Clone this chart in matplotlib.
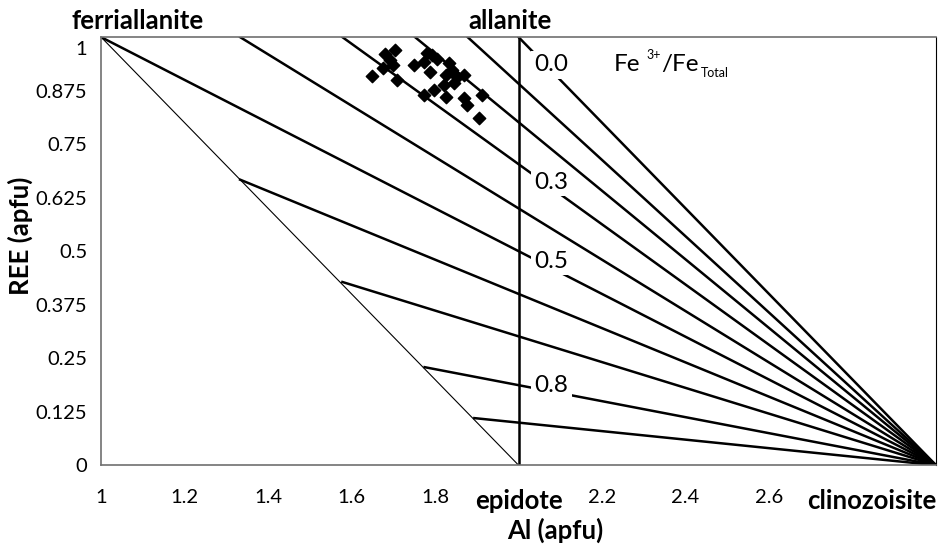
import matplotlib
matplotlib.use("Agg")
import matplotlib.pyplot as plt
import matplotlib.transforms as mtransforms

plt.rcParams['font.family'] = ['Lato', 'DejaVu Sans']

# end members
ferriallanite = (1.0, 1.0)
allanite = (2.0, 1.0)
epidote = (2.0, 0.0)
clinozoisite = (3.0, 0.0)

# fan lines to clinozoisite: start points on the top edge and on the ferriallanite-epidote join
top_al = [1.0, 1.333, 1.578, 1.752, 1.878, 2.0]
diag_al = [1.333, 1.578, 1.775, 1.894]
diag_ree = [0.667, 0.428, 0.229, 0.110]

# Fe3+/Fe_total labels
ratio_labels = ["0.0", "0.3", "0.5", "0.8"]
ratio_al = [2.079, 2.079, 2.079, 2.079]
ratio_ree = [0.935, 0.661, 0.477, 0.187]

# measured allanite compositions
al_data = [1.705, 1.681, 1.649, 1.675, 1.699, 1.709, 1.749, 1.781, 1.793, 1.805,
           1.773, 1.833, 1.841, 1.789, 1.825, 1.853, 1.869, 1.845, 1.821, 1.797,
           1.773, 1.825, 1.869, 1.877, 1.913, 1.905, 1.693]
ree_data = [0.971, 0.960, 0.910, 0.927, 0.935, 0.900, 0.936, 0.962, 0.958, 0.950,
            0.942, 0.939, 0.923, 0.919, 0.911, 0.907, 0.911, 0.892, 0.888, 0.876,
            0.864, 0.861, 0.857, 0.841, 0.864, 0.812, 0.946]

x_ticks = [1, 1.2, 1.4, 1.6, 1.8, 2, 2.2, 2.4, 2.6, 3]
x_ticklabels = ["1", "1.2", "1.4", "1.6", "1.8", "epidote", "2.2", "2.4", "2.6", "clinozoisite"]
y_ticks = [0, 0.125, 0.25, 0.375, 0.5, 0.625, 0.75, 0.875, 1]
y_ticklabels = ["0", "0.125", "0.25", "0.375", "0.5", "0.625", "0.75", "0.875", "1"]

fig = plt.figure(figsize=(9.45, 5.46), dpi=100)
ax = fig.add_axes([0.107, 0.148, 0.8835, 0.784])

# thin ferriallanite - epidote join
ax.plot([ferriallanite[0], epidote[0]], [ferriallanite[1], epidote[1]], color="black", lw=0.8, zorder=2)
# allanite - epidote join
ax.plot([allanite[0], epidote[0]], [allanite[1], epidote[1]], color="black", lw=1.8, zorder=2)

for a in top_al:
    ax.plot([a, clinozoisite[0]], [1.0, clinozoisite[1]], color="black", lw=1.8, zorder=2)
for a, r in zip(diag_al, diag_ree):
    ax.plot([a, clinozoisite[0]], [r, clinozoisite[1]], color="black", lw=1.8, zorder=2)

for lab, a, r in zip(ratio_labels, ratio_al, ratio_ree):
    ax.text(a, r, lab, fontsize=17.5, ha="center", va="center", zorder=4,
            bbox=dict(boxstyle="square,pad=0.15", facecolor="white", edgecolor="none"))

ax.scatter(al_data, ree_data, marker="D", s=40, color="black", zorder=5)

# Fe3+/Fe_Total legend text built from pieces
fe_pos = (2.228, 0.935)
ax.annotate("Fe", fe_pos, fontsize=17.5, ha="left", va="center")
ax.annotate("3+", fe_pos, xytext=(33, 10), textcoords="offset pixels", fontsize=9, ha="left", va="center")
ax.annotate("/Fe", fe_pos, xytext=(47, 0), textcoords="offset pixels", fontsize=17.5, ha="left", va="center")
ax.annotate("Total", fe_pos, xytext=(87, -8), textcoords="offset pixels", fontsize=9, ha="left", va="center")

ax.set_xlim(1, 3)
ax.set_ylim(0, 1)
ax.set_xticks(x_ticks)
ax.set_xticklabels(x_ticklabels)
ax.set_yticks(y_ticks)
ax.set_yticklabels(y_ticklabels)
ax.tick_params(axis="both", length=0, labelsize=14.5)
ax.tick_params(axis="x", pad=17)
ax.tick_params(axis="y", pad=10)

tl = ax.get_xticklabels()
for i in (5, 9):
    tl[i].set_fontsize(18.5)
    tl[i].set_fontweight("bold")
tl[9].set_ha("right")

# the "1" label sits a little below the top edge
yl = ax.get_yticklabels()
yl[-1].set_transform(yl[-1].get_transform() +
                     mtransforms.ScaledTranslation(0, -8 / 72, fig.dpi_scale_trans))

for s in ["left", "bottom", "top"]:
    ax.spines[s].set_color("#707070")
    ax.spines[s].set_linewidth(1.2)
ax.spines["right"].set_color("black")
ax.spines["right"].set_linewidth(0.8)

ax.set_xlabel("Al (apfu)", fontsize=18.5, fontweight="bold")
ax.set_ylabel("REE (apfu)", fontsize=18.5, fontweight="bold")
ax.xaxis.set_label_coords(0.544, -0.122)
ax.yaxis.set_label_coords(-0.081, 0.537)

ax.text(1.088, 1.018, "ferriallanite", fontsize=18.5, fontweight="bold", ha="center", va="baseline",
        clip_on=False)
ax.text(1.98, 1.018, "allanite", fontsize=18.5, fontweight="bold", ha="center", va="baseline",
        clip_on=False)

fig.savefig("out.png", dpi=100)
